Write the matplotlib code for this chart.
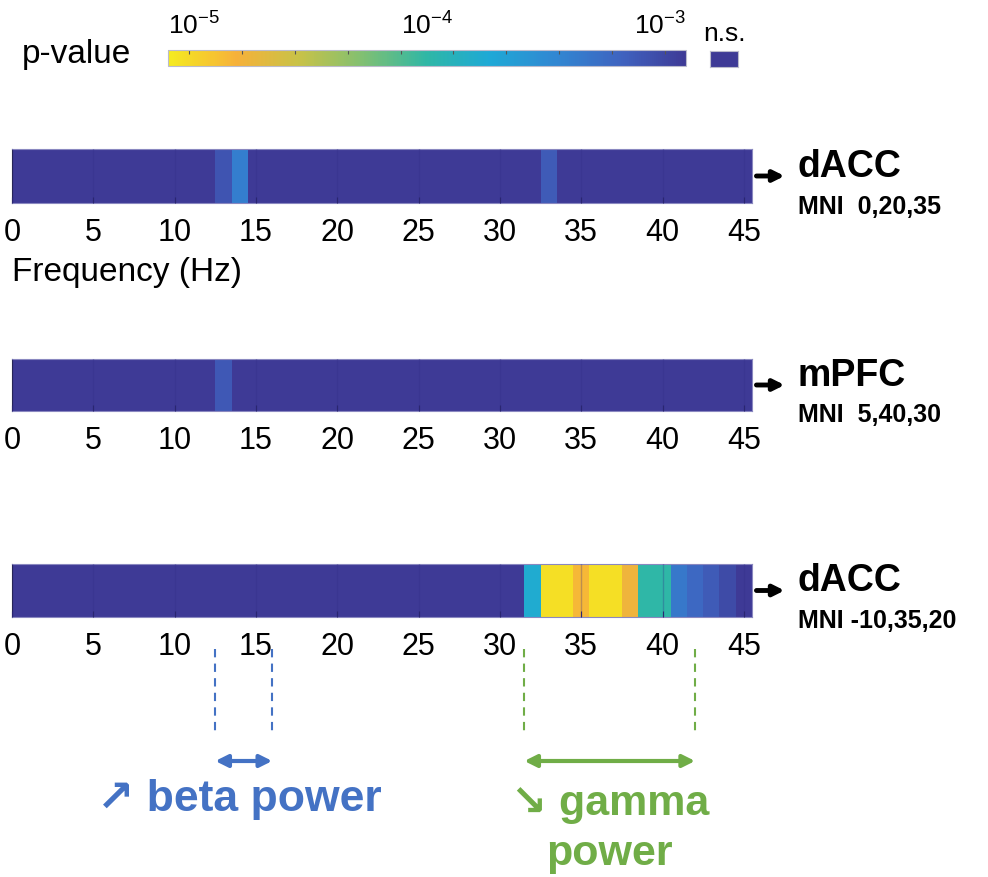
import numpy as np
import matplotlib
matplotlib.use('Agg')
import matplotlib.pyplot as plt
from matplotlib.colors import LinearSegmentedColormap, Normalize
from matplotlib.cm import ScalarMappable

plt.rcParams['font.family'] = ['Liberation Sans', 'DejaVu Sans']
plt.rcParams['mathtext.fontset'] = 'custom'
plt.rcParams['mathtext.rm'] = 'Liberation Sans'
plt.rcParams['mathtext.it'] = 'Liberation Sans:italic'

# frequency bins (1 Hz) and tick labels
freqs = np.arange(0, 46)
freq_ticks = [0, 5, 10, 15, 20, 25, 30, 35, 40, 45]

# significant bins (Hz) and their p-values; every other bin is n.s.
dacc1_freq = [13, 14, 33]
dacc1_p = [6.9e-4, 3.6e-4, 6.3e-4]
mpfc_freq = [13]
mpfc_p = [6.6e-4]
dacc2_freq = [32, 33, 34, 35, 36, 37, 38, 39, 40, 41, 42, 43, 44]
dacc2_p = [1.6e-4, 1.15e-5, 1.15e-5, 1.7e-5, 1.15e-5, 1.15e-5, 2.0e-5,
           1.0e-4, 1.0e-4, 4.0e-4, 5.2e-4, 6.3e-4, 7.9e-4]

regions = ['dACC', 'mPFC', 'dACC']
mni = ['MNI  0,20,35', 'MNI  5,40,30', 'MNI -10,35,20']

beta_band = [12.5, 16]
gamma_band = [31.5, 42]

# reversed parula-like map, yellow = 1e-5, dark blue = 1e-3
cmap = LinearSegmentedColormap.from_list('parula_r', [
    (0.00, '#f5eb20'), (0.13, '#f6b13a'), (0.25, '#c9c247'),
    (0.37, '#84c070'), (0.50, '#2fb7a6'), (0.62, '#1ea9d6'),
    (0.75, '#3187d2'), (0.88, '#3f62bf'), (1.00, '#3e3a96')])
ns_color = '#3e3a96'
cmap.set_bad(ns_color)
norm = Normalize(-5, -3)

W, H = 988, 878
fig = plt.figure(figsize=(W / 100, H / 100), dpi=100)


def fr(x0, y0, x1, y1):
    # pixel box (top-left origin) -> figure fraction rect
    return [x0 / W, 1 - y1 / H, (x1 - x0) / W, (y1 - y0) / H]


def full_p(fs, ps):
    arr = np.full(len(freqs), np.nan)
    for f, p in zip(fs, ps):
        arr[list(freqs).index(f)] = np.log10(p)
    return np.ma.masked_invalid(arr)


# colorbar
cax = fig.add_axes(fr(168, 51, 686, 67))
cb = fig.colorbar(ScalarMappable(norm=norm, cmap=cmap), cax=cax, orientation='horizontal')
cb.outline.set_edgecolor('#bbbbcc')
cb.outline.set_linewidth(0.8)
cax.xaxis.set_ticks_position('top')
cax.set_xticks([-5, -4, -3])
cax.set_xticklabels([r'$10^{-5}$', r'$10^{-4}$', r'$10^{-3}$'], fontsize=19)
for lab, ha in zip(cax.get_xticklabels(), ['left', 'center', 'right']):
    lab.set_horizontalalignment(ha)
cax.tick_params(axis='x', which='major', length=0, pad=8)
cax.set_xticks(np.linspace(-4.92, -3.08, 10), minor=True)
cax.tick_params(axis='x', which='minor', direction='in', length=3, color='#555555', width=0.8)
fig.text(22 / W, 1 - 55 / H, 'p-value', fontsize=24, va='center', ha='left')

nax = fig.add_axes(fr(710, 52, 738, 68))
nax.set_facecolor(ns_color)
nax.set_xticks([])
nax.set_yticks([])
for s in nax.spines.values():
    s.set_edgecolor('#bbbbcc')
    s.set_linewidth(0.8)
nax.set_title('n.s.', fontsize=19, pad=8)

bar_boxes = [(12, 150, 752, 204), (12, 360, 752, 412), (12, 565, 752, 618)]
bar_data = [full_p(dacc1_freq, dacc1_p), full_p(mpfc_freq, mpfc_p), full_p(dacc2_freq, dacc2_p)]

edges = np.append(freqs - 0.5, freqs[-1] + 0.5)
for box, vals, reg, m in zip(bar_boxes, bar_data, regions, mni):
    ax = fig.add_axes(fr(*box))
    ax.set_facecolor(ns_color)
    ax.pcolormesh(edges, [0, 1], vals[np.newaxis, :], cmap=cmap, norm=norm)
    ax.set_xlim(0, 45.5)
    ax.set_ylim(0, 1)
    ax.set_yticks([])
    ax.set_xticks(freq_ticks)
    ax.tick_params(axis='x', labelsize=22, length=4, direction='in', color='#2a2670', pad=10)
    ax.grid(axis='x', color='#332f88', lw=1.0, alpha=0.3)
    ax.set_axisbelow(False)
    for s in ax.spines.values():
        s.set_edgecolor('#8a88c0')
        s.set_linewidth(0.8)
    ax.spines['left'].set_edgecolor('#222244')
    ax.annotate('', xy=(1.044, 0.5), xytext=(1.006, 0.5), xycoords='axes fraction',
                arrowprops=dict(arrowstyle='-|>', lw=3.5, color='black', mutation_scale=16,
                                shrinkA=0, shrinkB=0))
    ax.text(1.062, 0.5, reg, transform=ax.transAxes, fontsize=27, fontweight='bold',
            va='baseline', ha='left')
    ax.text(1.062, -0.19, m, transform=ax.transAxes, fontsize=18, fontweight='bold',
            va='baseline', ha='left')

fig.text(12 / W, 1 - 273 / H, 'Frequency (Hz)', fontsize=24, va='center', ha='left')

# band annotations under the last bar
ann = fig.add_axes(fr(12, 625, 752, 878))
ann.set_xlim(0, 45.5)
ann.set_ylim(0, 253)
ann.axis('off')
blue = '#4472c4'
green = '#70ad47'
for band, col in [(beta_band, blue), (gamma_band, green)]:
    for x in band:
        ann.plot([x, x], [228, 143], ls=(0, (4, 3)), color=col, lw=1.5)
    ann.annotate('', xy=(band[1], 116), xytext=(band[0], 116),
                 arrowprops=dict(arrowstyle='<|-|>', color=col, lw=3, mutation_scale=18,
                                 shrinkA=0, shrinkB=0))
ann.text(np.mean(beta_band) - 0.3, 78, '\u2197 beta power', color=blue, fontsize=32,
         fontweight='bold', ha='center', va='center')
ann.text(np.mean(gamma_band), 49, '\u2198 gamma\npower', color=green, fontsize=31,
         fontweight='bold', ha='center', va='center', linespacing=1.32)

fig.savefig('out.png', dpi=100)
